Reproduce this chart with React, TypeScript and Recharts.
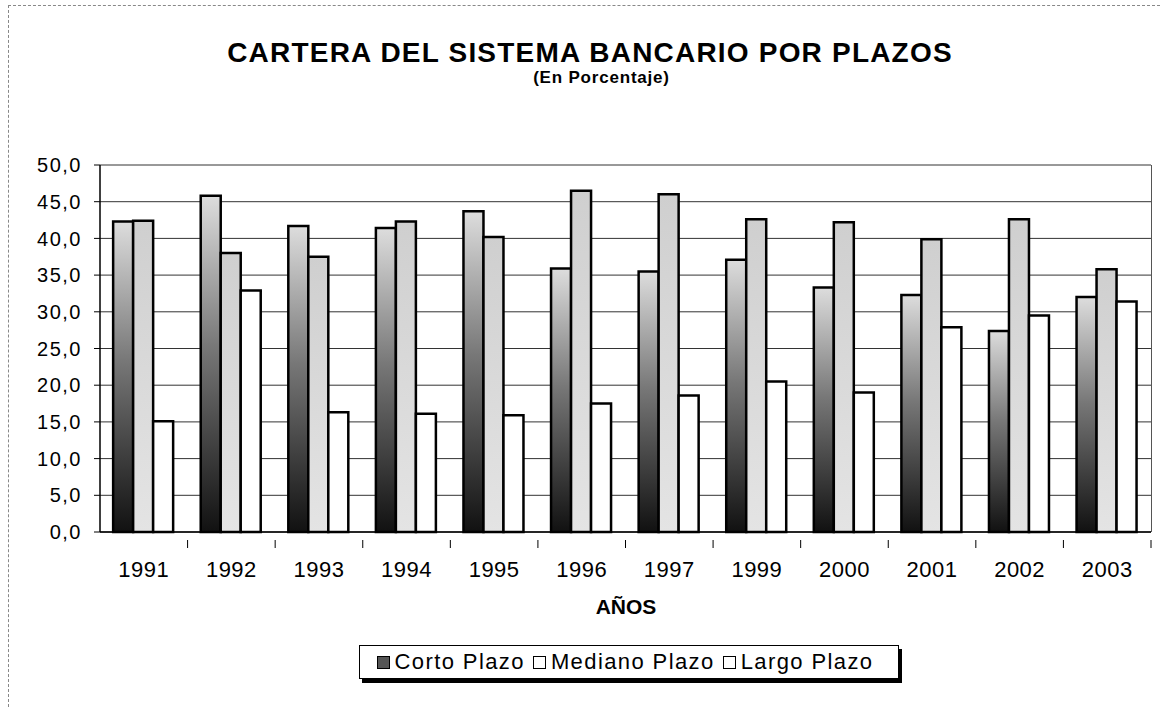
import { BarChart, Bar, XAxis, YAxis, CartesianGrid } from 'recharts'

const years   = ['1991', '1992', '1993', '1994', '1995', '1996', '1997', '1999', '2000', '2001', '2002', '2003']
const corto   = [42.3, 45.8, 41.7, 41.4, 43.7, 35.9, 35.5, 37.1, 33.3, 32.3, 27.4, 32.0]
const mediano = [42.4, 38.0, 37.5, 42.3, 40.2, 46.5, 46.0, 42.6, 42.2, 39.9, 42.6, 35.8]
const largo   = [15.1, 32.9, 16.3, 16.1, 15.9, 17.5, 18.6, 20.5, 19.0, 27.9, 29.5, 31.4]
const yTicks  = [0, 5, 10, 15, 20, 25, 30, 35, 40, 45, 50]

const data = years.map((y, i) => ({ year: y, corto: corto[i], mediano: mediano[i], largo: largo[i] }))

const font = '"Liberation Sans", Arial, sans-serif'
const fmt = (v: number) => v.toFixed(1).replace('.', ',')
const halfBand = 1051 / 12 / 2

// label under each category, plus the tick mark on the boundary to its right
function YearTick(props: any) {
  const { x, y, payload } = props
  return (
    <g>
      <line x1={x + halfBand} y1={y} x2={x + halfBand} y2={y + 8} stroke="#000" />
      <text x={x} y={y + 37} textAnchor="middle" fontSize={22} fontFamily={font} fill="#000" letterSpacing={0.5}>
        {payload.value}
      </text>
    </g>
  )
}

function LegendBox() {
  const item = (fill: string, label: string) => (
    <span style={{ display: 'inline-flex', alignItems: 'center', marginRight: 8 }}>
      <span style={{ width: 11, height: 11, border: '1.5px solid #000', background: fill, marginRight: 5 }} />
      {label}
    </span>
  )
  return (
    <div style={{
      position: 'absolute', left: 359, top: 645, width: 540, height: 34,
      border: '1px solid #000', boxShadow: '3px 4px 0 #000', background: '#fff',
      display: 'flex', alignItems: 'center', justifyContent: 'center',
      fontFamily: font, fontSize: 22, letterSpacing: 1.4, color: '#000', boxSizing: 'border-box',
    }}>
      {item('#555', 'Corto Plazo')}
      {item('#fff', 'Mediano Plazo')}
      {item('#fff', 'Largo Plazo')}
    </div>
  )
}

export default function App() {
  return (
    <div style={{ position: 'absolute', left: 0, top: 0, width: 1160, height: 707, background: '#fff', fontFamily: font }}>
      <div style={{ position: 'absolute', left: 8, top: 5, right: 0, bottom: 0, borderTop: '1px dashed #888', borderLeft: '1px dashed #888' }} />
      <div style={{ position: 'absolute', left: 0, width: 1180, top: 39, lineHeight: '28px', textAlign: 'center', fontWeight: 'bold', fontSize: 28, letterSpacing: 1.2, whiteSpace: 'nowrap' }}>
        CARTERA DEL SISTEMA BANCARIO POR PLAZOS
      </div>
      <div style={{ position: 'absolute', left: 0, width: 1203, top: 69, lineHeight: '17px', textAlign: 'center', fontWeight: 'bold', fontSize: 17, letterSpacing: 0.8 }}>
        (En Porcentaje)
      </div>
      <div style={{ position: 'absolute', left: 0, width: 1252, top: 595, textAlign: 'center', fontWeight: 'bold', fontSize: 21 }}>
        AÑOS
      </div>
      <div style={{ position: 'absolute', left: 0, top: 0 }}>
        <BarChart
          width={1160}
          height={707}
          data={data}
          margin={{ top: 165, right: 9, bottom: 115, left: 0 }}
          barCategoryGap="15%"
          barGap={0}
        >
          <defs>
            <linearGradient id="gCorto" x1="0" y1="1" x2="0" y2="0">
              <stop offset="0%" stopColor="#111" />
              <stop offset="55%" stopColor="#777" />
              <stop offset="100%" stopColor="#ddd" />
            </linearGradient>
            <linearGradient id="gMediano" x1="0" y1="1" x2="0" y2="0">
              <stop offset="0%" stopColor="#e4e4e4" />
              <stop offset="100%" stopColor="#cfcfcf" />
            </linearGradient>
          </defs>
          <CartesianGrid vertical={false} stroke="#333" />
          <XAxis
            dataKey="year"
            height={60}
            tickLine={false}
            axisLine={{ stroke: '#000', strokeWidth: 1.5 }}
            tick={<YearTick />}
          />
          <YAxis
            width={100}
            domain={[0, 50]}
            ticks={yTicks}
            tickFormatter={fmt}
            tickSize={6}
            tickMargin={12}
            axisLine={{ stroke: '#000', strokeWidth: 1.5 }}
            tickLine={{ stroke: '#000' }}
            tick={{ fontSize: 20, fill: '#000', fontFamily: font, letterSpacing: 1.5 }}
          />
          <Bar dataKey="corto" name="Corto Plazo" fill="url(#gCorto)" stroke="#000" strokeWidth={2.5} isAnimationActive={false} />
          <Bar dataKey="mediano" name="Mediano Plazo" fill="url(#gMediano)" stroke="#000" strokeWidth={2.5} isAnimationActive={false} />
          <Bar dataKey="largo" name="Largo Plazo" fill="#fff" stroke="#000" strokeWidth={2.5} isAnimationActive={false} />
        </BarChart>
      </div>
      <div style={{ position: 'absolute', left: 1151, top: 165, width: 1, height: 367, background: '#555' }} />
      <LegendBox />
    </div>
  )
}
